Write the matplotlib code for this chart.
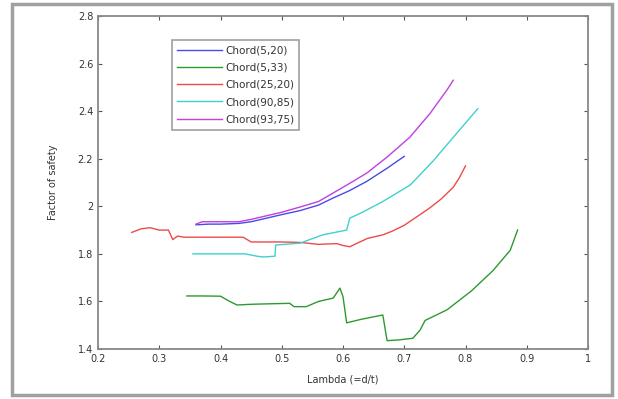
import matplotlib
matplotlib.use("Agg")
import matplotlib.pyplot as plt
from matplotlib.patches import Rectangle

# ---- data ----
blue_x = [0.36, 0.38, 0.40, 0.43, 0.45, 0.50, 0.53, 0.56, 0.584, 0.61, 0.639, 0.672, 0.70]
blue_y = [1.922, 1.925, 1.925, 1.928, 1.935, 1.965, 1.982, 2.005, 2.035, 2.065, 2.105, 2.16, 2.21]

green_x = [0.345, 0.37, 0.40, 0.415, 0.427, 0.45, 0.48, 0.513, 0.52, 0.54, 0.56, 0.584, 0.595,
           0.600, 0.606, 0.63, 0.665, 0.672, 0.69, 0.714, 0.726, 0.734, 0.77, 0.81, 0.845, 0.873, 0.885]
green_y = [1.623, 1.623, 1.622, 1.60, 1.585, 1.588, 1.59, 1.592, 1.578, 1.578, 1.60, 1.614, 1.656,
           1.62, 1.51, 1.525, 1.543, 1.435, 1.438, 1.445, 1.48, 1.52, 1.565, 1.645, 1.73, 1.815, 1.90]

red_x = [0.255, 0.27, 0.285, 0.30, 0.315, 0.322, 0.33, 0.34, 0.36, 0.40, 0.437, 0.45, 0.50, 0.53,
         0.56, 0.59, 0.60, 0.611, 0.64, 0.665, 0.68, 0.70, 0.72, 0.74, 0.76, 0.78, 0.79, 0.80]
red_y = [1.89, 1.905, 1.91, 1.90, 1.90, 1.86, 1.875, 1.87, 1.87, 1.87, 1.87, 1.85, 1.85, 1.848,
         1.84, 1.843, 1.835, 1.83, 1.865, 1.88, 1.895, 1.92, 1.955, 1.99, 2.03, 2.08, 2.12, 2.17]

cyan_x = [0.355, 0.40, 0.44, 0.46, 0.47, 0.489, 0.49, 0.53, 0.567, 0.606, 0.611, 0.628, 0.665,
          0.71, 0.747, 0.78, 0.80, 0.82]
cyan_y = [1.80, 1.80, 1.80, 1.79, 1.787, 1.79, 1.837, 1.845, 1.88, 1.90, 1.95, 1.97, 2.02,
          2.09, 2.19, 2.29, 2.35, 2.41]

mag_x = [0.36, 0.37, 0.40, 0.43, 0.45, 0.50, 0.53, 0.56, 0.584, 0.61, 0.639, 0.672, 0.709,
         0.742, 0.77, 0.78]
mag_y = [1.925, 1.935, 1.935, 1.935, 1.945, 1.975, 1.997, 2.02, 2.056, 2.095, 2.14, 2.207, 2.29,
         2.39, 2.49, 2.53]

labels = ["Chord(5,20)", "Chord(5,33)", "Chord(25,20)", "Chord(90,85)", "Chord(93,75)"]
colors = ["#4a4ae8", "#2e9a2e", "#ee4a4a", "#3fd0d0", "#c040e0"]

xticks = [0.2, 0.3, 0.4, 0.5, 0.6, 0.7, 0.8, 0.9, 1.0]
xticklabels = ["0.2", "0.3", "0.4", "0.5", "0.6", "0.7", "0.8", "0.9", "1"]
yticks = [1.4, 1.6, 1.8, 2.0, 2.2, 2.4, 2.6, 2.8]
yticklabels = ["1.4", "1.6", "1.8", "2", "2.2", "2.4", "2.6", "2.8"]

fig = plt.figure(figsize=(6.18, 3.99), dpi=100)
ax = fig.add_axes([98 / 618, 50 / 399, 490 / 618, 333 / 399])

series = [(blue_x, blue_y), (green_x, green_y), (red_x, red_y), (cyan_x, cyan_y), (mag_x, mag_y)]
for (xs, ys), lab, c in zip(series, labels, colors):
    ax.plot(xs, ys, color=c, lw=1.0, label=lab)

ax.set_xlim(0.2, 1.0)
ax.set_ylim(1.4, 2.8)
ax.set_xticks(xticks)
ax.set_xticklabels(xticklabels)
ax.set_yticks(yticks)
ax.set_yticklabels(yticklabels)
ax.tick_params(direction="in", top=True, right=True, labelsize=7, colors="#555555",
               labelcolor="#333333", length=3, width=0.8)
for s in ax.spines.values():
    s.set_color("#888888")
    s.set_linewidth(1.3)

ax.set_xlabel("Lambda (=d/t)", fontsize=7, color="#333333", labelpad=8)
ax.set_ylabel("Factor of safety", fontsize=7, color="#333333", labelpad=14)

leg = ax.legend(loc="upper left", bbox_to_anchor=(0.151, 0.928), fontsize=7.5, frameon=True,
                fancybox=False, edgecolor="#888888", handlelength=4.3, borderpad=0.5,
                labelspacing=0.7, handletextpad=0.3, borderaxespad=0)
leg.get_frame().set_linewidth(1.2)
for t in leg.get_texts():
    t.set_color("#333333")

# outer figure border
fig.patches.append(Rectangle((12 / 618, 4 / 399), 600 / 618, 391 / 399, transform=fig.transFigure,
                             fill=False, edgecolor="#a0a0a0", lw=2.5))

fig.savefig("out.png", dpi=100)
